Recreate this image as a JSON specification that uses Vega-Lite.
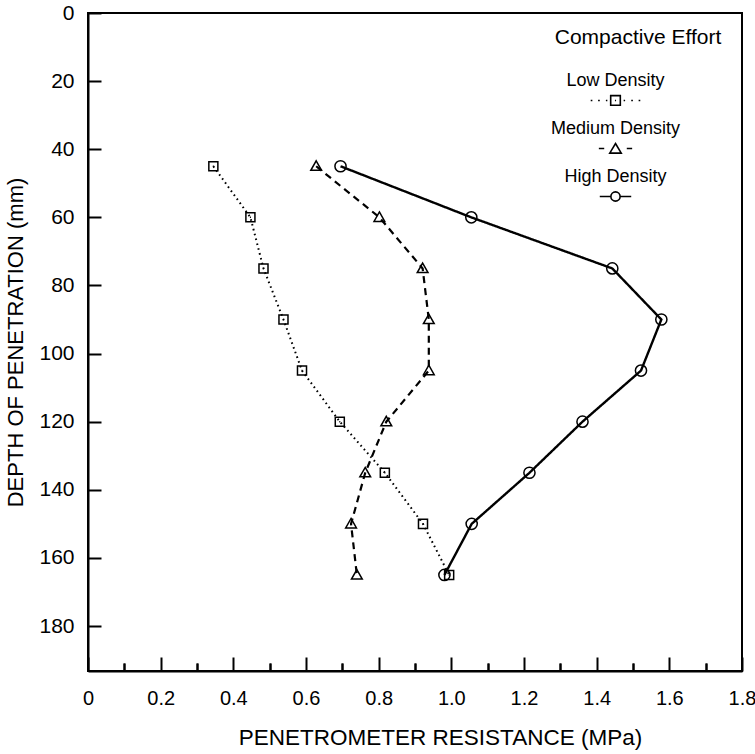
{
  "$schema": "https://vega.github.io/schema/vega-lite/v6.json",
  "width": 654,
  "height": 658,
  "autosize": {"type": "none"},
  "padding": {"left": 88, "top": 13, "right": 13, "bottom": 83},
  "background": "white",
  "config": {
    "font": "Liberation Sans",
    "view": {"stroke": "black", "strokeWidth": 2},
    "axis": {
      "domainColor": "black", "domainWidth": 2,
      "tickColor": "black", "tickWidth": 2,
      "labelColor": "black", "titleColor": "black",
      "labelFont": "Liberation Sans", "titleFont": "Liberation Sans",
      "titleFontWeight": "normal", "grid": false
    }
  },
  "data": {
    "values": [
      {"density": "Low Density", "depth": 45, "resistance": 0.345},
      {"density": "Low Density", "depth": 60, "resistance": 0.447},
      {"density": "Low Density", "depth": 75, "resistance": 0.483},
      {"density": "Low Density", "depth": 90, "resistance": 0.538},
      {"density": "Low Density", "depth": 105, "resistance": 0.589},
      {"density": "Low Density", "depth": 120, "resistance": 0.693},
      {"density": "Low Density", "depth": 135, "resistance": 0.817},
      {"density": "Low Density", "depth": 150, "resistance": 0.922},
      {"density": "Low Density", "depth": 165, "resistance": 0.994},
      {"density": "Medium Density", "depth": 45, "resistance": 0.628},
      {"density": "Medium Density", "depth": 60, "resistance": 0.802},
      {"density": "Medium Density", "depth": 75, "resistance": 0.921},
      {"density": "Medium Density", "depth": 90, "resistance": 0.938},
      {"density": "Medium Density", "depth": 105, "resistance": 0.938},
      {"density": "Medium Density", "depth": 120, "resistance": 0.821},
      {"density": "Medium Density", "depth": 135, "resistance": 0.763},
      {"density": "Medium Density", "depth": 150, "resistance": 0.724},
      {"density": "Medium Density", "depth": 165, "resistance": 0.740},
      {"density": "High Density", "depth": 45, "resistance": 0.695},
      {"density": "High Density", "depth": 60, "resistance": 1.055},
      {"density": "High Density", "depth": 75, "resistance": 1.443},
      {"density": "High Density", "depth": 90, "resistance": 1.578},
      {"density": "High Density", "depth": 105, "resistance": 1.522},
      {"density": "High Density", "depth": 120, "resistance": 1.361},
      {"density": "High Density", "depth": 135, "resistance": 1.215},
      {"density": "High Density", "depth": 150, "resistance": 1.056},
      {"density": "High Density", "depth": 165, "resistance": 0.981}
    ]
  },
  "resolve": {"axis": {"x": "independent"}, "scale": {"shape": "independent"}},
  "layer": [
    {
      "mark": {"type": "line", "color": "black", "strokeCap": "butt"},
      "encoding": {
        "x": {
          "field": "resistance", "type": "quantitative",
          "scale": {"domain": [0, 1.8], "nice": false, "zero": false},
          "axis": {
            "orient": "bottom",
            "values": [0, 0.2, 0.4, 0.6, 0.8, 1.0, 1.2, 1.4, 1.6, 1.8],
            "labelExpr": "datum.value == 0 ? '0' : format(datum.value, '.1f')",
            "tickSize": -14, "labelPadding": 31, "labelFontSize": 20,
            "labelFlush": false, "labelOverlap": false,
            "title": "PENETROMETER RESISTANCE (MPa)",
            "titleFontSize": 22.5, "titlePadding": 18, "titleX": 352
          }
        },
        "y": {
          "field": "depth", "type": "quantitative",
          "scale": {"domain": [0, 193.2], "reverse": true, "nice": false, "zero": false},
          "axis": {
            "values": [0, 20, 40, 60, 80, 100, 120, 140, 160, 180],
            "tickSize": -13, "labelPadding": 27, "labelFontSize": 21,
            "labelFlush": false, "labelOverlap": false,
            "title": "DEPTH OF PENETRATION (mm)",
            "titleFontSize": 22, "titlePadding": 11
          }
        },
        "strokeDash": {
          "field": "density", "type": "nominal",
          "scale": {
            "domain": ["Low Density", "Medium Density", "High Density"],
            "range": [[1.6, 3.4], [7, 5], [1, 0]]
          },
          "legend": null
        },
        "strokeWidth": {
          "field": "density", "type": "nominal",
          "scale": {"domain": ["Low Density", "Medium Density", "High Density"], "range": [2, 2.4, 1.9]},
          "legend": null
        },
        "order": {"field": "depth", "type": "quantitative"}
      }
    },
    {
      "mark": {"type": "point", "filled": false, "color": "black", "strokeWidth": 1.5, "size": 74, "opacity": 1},
      "encoding": {
        "x": {
          "field": "resistance", "type": "quantitative",
          "axis": {
            "orient": "bottom",
            "values": [0.1, 0.3, 0.5, 0.7, 0.9, 1.1, 1.3, 1.5, 1.7],
            "tickSize": -8, "labels": false, "domain": false, "title": null
          }
        },
        "y": {
          "field": "depth", "type": "quantitative",
          "axis": {
            "values": [0, 20, 40, 60, 80, 100, 120, 140, 160, 180],
            "tickSize": -13, "labelPadding": 27, "labelFontSize": 21,
            "labelFlush": false, "labelOverlap": false,
            "title": "DEPTH OF PENETRATION (mm)",
            "titleFontSize": 22, "titlePadding": 11
          }
        },
        "shape": {
          "field": "density", "type": "nominal",
          "scale": {
            "domain": ["Low Density", "Medium Density", "High Density"],
            "range": [
              "M-1.05,-1.05L1.05,-1.05L1.05,1.05L-1.05,1.05ZM-0.12,0L0.12,0",
              "M0,-1.25L1.25,0.95L-1.25,0.95Z",
              "M1.3,0C1.3,0.718 0.718,1.3 0,1.3C-0.718,1.3 -1.3,0.718 -1.3,0C-1.3,-0.718 -0.718,-1.3 0,-1.3C0.718,-1.3 1.3,-0.718 1.3,0Z"
            ]
          },
          "legend": null
        }
      }
    },
    {
      "mark": {"type": "point", "filled": false, "color": "black", "strokeWidth": 1.6, "size": 74, "opacity": 0},
      "encoding": {
        "x": {
          "field": "resistance", "type": "quantitative",
          "axis": {
            "orient": "bottom",
            "values": [0.1, 0.3, 0.5, 0.7, 0.9, 1.1, 1.3, 1.5, 1.7],
            "tickSize": -8, "labels": false, "domain": false, "title": null
          }
        },
        "y": {
          "field": "depth", "type": "quantitative",
          "axis": {
            "values": [0, 20, 40, 60, 80, 100, 120, 140, 160, 180],
            "tickSize": -13, "labelPadding": 27, "labelFontSize": 21,
            "labelFlush": false, "labelOverlap": false,
            "title": "DEPTH OF PENETRATION (mm)",
            "titleFontSize": 22, "titlePadding": 11
          }
        },
        "shape": {
          "field": "density", "type": "nominal",
          "scale": {
            "domain": ["Low Density", "Medium Density", "High Density"],
            "range": [
              "M-1.34,1.08L-1.25,1.08M-0.94,1.08L-0.85,1.08M-0.52,1.08L-0.44,1.08M-0.26,0.82L0.26,0.82L0.26,1.34L-0.26,1.34ZM-0.03,1.08L0.03,1.08M0.44,1.08L0.52,1.08M0.85,1.08L0.94,1.08M1.25,1.08L1.34,1.08",
              "M-0.9,1.08L-0.61,1.08M0,0.81L0.31,1.33L-0.31,1.33ZM0.61,1.08L0.9,1.08",
              "M-0.85,1.08L-0.25,1.08M0.25,1.08C0.25,1.218 0.138,1.33 0,1.33C-0.138,1.33 -0.25,1.218 -0.25,1.08C-0.25,0.942 -0.138,0.83 0,0.83C0.138,0.83 0.25,0.942 0.25,1.08ZM0.25,1.08L0.85,1.08"
            ]
          },
          "legend": {
            "orient": "none", "legendX": 467, "legendY": 14,
            "title": "Compactive Effort",
            "titleFontSize": 21, "titleFontWeight": "normal", "titleColor": "black",
            "titleAnchor": "middle", "titleAlign": "center", "titlePadding": 13, "titleLimit": 0,
            "symbolSize": 1369, "symbolStrokeWidth": 1.6, "symbolOpacity": 1,
            "symbolStrokeColor": "black", "symbolFillColor": "transparent",
            "labelFontSize": 18, "labelColor": "black", "labelAlign": "center",
            "labelBaseline": "middle", "labelOffset": -19.5, "labelLimit": 0,
            "rowPadding": 0, "padding": 0
          }
        }
      }
    }
  ]
}
